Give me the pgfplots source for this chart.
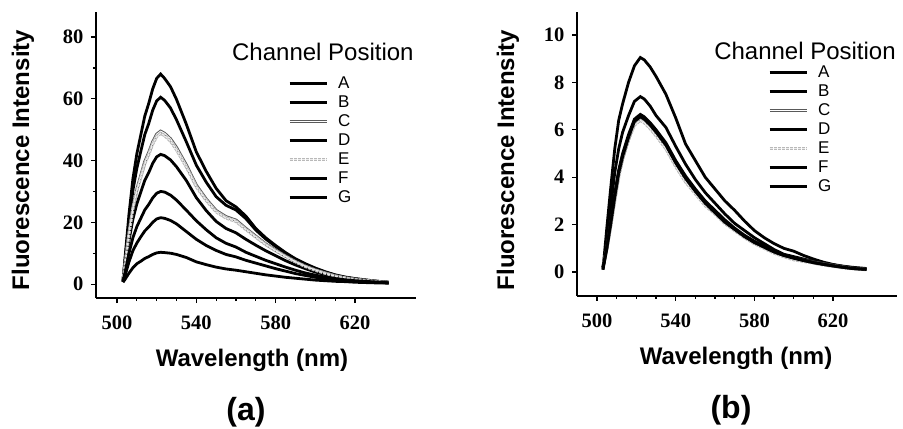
\documentclass[border=0pt]{standalone}
\usepackage{fontspec}
\setmainfont{Liberation Serif}
\setsansfont{Liberation Sans}
\usepackage{pgfplots}
\usepackage{pgfplotstable}
\pgfplotsset{compat=1.18}

\pgfplotstableread{
wl A B C D E F G H
503 1.0 1.0 0.9 0.8 0.9 0.8 0.7 0.6
504 8.2 7.3 5.9 5.0 5.9 3.6 2.6 1.5
506 22.4 20.0 16.3 13.9 16.1 9.9 7.1 3.5
508 34.0 30.3 24.8 21.0 24.4 15.0 10.8 5.3
510 42.2 37.5 30.7 26.0 30.3 18.6 13.3 6.6
512 48.3 43.0 35.1 29.8 34.6 21.3 15.3 7.4
514 54.4 48.4 39.6 33.6 39.0 24.0 17.2 8.3
516 58.5 52.0 42.6 36.1 42.0 25.8 18.5 8.9
518 63.2 56.3 46.0 39.1 45.4 27.9 20.0 9.6
520 66.6 59.3 48.5 41.2 47.8 29.4 21.1 10.1
522 68.0 60.5 49.5 42.0 48.8 30.0 21.5 10.3
524 66.6 59.5 48.8 41.6 48.1 29.8 21.3 10.2
527 63.9 57.0 47.0 40.2 46.3 28.8 20.6 10.0
530 59.8 53.2 44.2 38.0 43.5 27.2 19.5 9.6
535 51.7 46.0 38.5 33.5 37.9 23.9 17.0 8.6
540 42.8 38.5 32.0 28.0 31.5 20.5 14.5 7.2
545 36.5 33.0 27.5 23.8 27.1 17.6 12.5 6.3
550 31.0 28.3 23.8 20.3 23.4 15.0 10.9 5.5
555 27.0 25.5 21.8 18.0 21.4 13.2 9.6 4.9
560 25.0 24.0 20.7 16.6 20.3 12.0 8.8 4.5
565 22.0 21.2 18.0 14.5 17.7 10.3 7.7 4.0
570 18.0 17.5 15.5 12.6 15.2 9.0 6.8 3.5
575 15.0 14.6 13.0 10.8 12.8 7.7 5.9 3.0
580 12.5 12.2 11.0 9.2 10.8 6.6 5.0 2.6
585 10.2 10.0 9.1 7.6 8.9 5.5 4.2 2.2
590 8.2 8.0 7.3 6.2 7.2 4.5 3.4 1.9
595 6.6 6.4 5.8 5.0 5.7 3.6 2.8 1.6
600 5.2 5.0 4.6 3.9 4.5 2.9 2.2 1.3
605 4.0 3.9 3.6 3.1 3.5 2.3 1.8 1.1
610 3.0 2.9 2.7 2.3 2.6 1.8 1.4 0.9
615 2.3 2.2 2.0 1.8 2.0 1.4 1.1 0.8
620 1.8 1.7 1.6 1.4 1.5 1.1 0.9 0.6
625 1.4 1.3 1.2 1.1 1.2 0.9 0.7 0.5
630 1.0 1.0 0.9 0.8 0.9 0.7 0.6 0.4
637 0.6 0.6 0.5 0.5 0.5 0.4 0.4 0.3
}\tablea

\pgfplotstableread{
wl A B C D E F G
503 0.1 0.2 0.2 0.15 0.25 0.1 0.2
505 1.9 1.3 1.0 1.1 1.0 1.0 1.1
507 3.6 2.8 2.0 2.2 2.0 2.1 2.1
509 5.2 4.2 3.1 3.3 3.0 3.2 3.2
511 6.4 5.2 4.1 4.3 4.0 4.2 4.2
513 7.1 5.9 4.8 5.0 4.8 4.9 4.9
516 8.0 6.6 5.6 5.8 5.6 5.7 5.7
519 8.7 7.2 6.3 6.45 6.2 6.4 6.35
522 9.05 7.4 6.5 6.65 6.4 6.6 6.55
524 8.95 7.3 6.45 6.55 6.3 6.5 6.45
527 8.65 7.0 6.15 6.3 6.05 6.25 6.2
530 8.25 6.6 5.85 6.0 5.75 5.95 5.9
535 7.5 6.1 5.3 5.45 5.2 5.4 5.35
540 6.5 5.3 4.55 4.7 4.45 4.65 4.6
545 5.4 4.55 3.9 4.05 3.8 4.0 3.95
550 4.7 3.9 3.4 3.5 3.3 3.45 3.4
555 4.0 3.35 2.9 3.0 2.8 2.95 2.9
560 3.5 2.9 2.5 2.6 2.45 2.55 2.5
565 3.0 2.45 2.1 2.2 2.05 2.15 2.1
570 2.6 2.05 1.8 1.85 1.75 1.8 1.8
575 2.15 1.75 1.5 1.55 1.45 1.5 1.5
580 1.75 1.45 1.25 1.3 1.2 1.25 1.25
585 1.45 1.2 1.05 1.1 1.0 1.05 1.05
590 1.2 0.95 0.85 0.9 0.8 0.85 0.85
595 1.0 0.75 0.7 0.72 0.65 0.7 0.7
600 0.88 0.65 0.6 0.62 0.52 0.58 0.6
605 0.7 0.55 0.5 0.5 0.45 0.48 0.5
610 0.55 0.45 0.42 0.4 0.38 0.4 0.4
615 0.42 0.38 0.35 0.33 0.3 0.32 0.33
620 0.32 0.3 0.28 0.26 0.24 0.26 0.26
625 0.25 0.24 0.22 0.2 0.18 0.2 0.2
630 0.2 0.18 0.16 0.15 0.14 0.15 0.15
637 0.15 0.13 0.12 0.12 0.1 0.11 0.11
}\tableb

\tikzset{
  blk/.style={draw=black, line width=2.8bp},
  grC/.style={draw=gray!70!black, line width=1bp, double=white, double distance=1.1bp},
  grE/.style={draw=gray!55, line width=1bp, double=gray!15, double distance=1.1bp, dash pattern=on 3bp off 1bp},
}

\pgfplotsset{
  panel/.style={
    scale only axis,
    width=320bp,
    axis x line*=bottom,
    axis y line*=left,
    axis line style={line width=1.5bp},
    tick align=outside,
    major tick length=5bp,
    minor tick length=3bp,
    every tick/.style={black, line width=1.2bp},
    xtick={500,540,580,620},
    minor x tick num=3,
    /pgf/number format/assume math mode=true,
    tick label style={font=\fontsize{20.5bp}{20.5bp}\selectfont\bfseries},
    xticklabel style={yshift=-9bp},
    yticklabel style={xshift=-4bp},
    xlabel={Wavelength (nm)},
    ylabel={Fluorescence Intensity},
    legend style={draw=none, fill=none, inner sep=0pt, outer sep=0pt,
      font=\fontsize{17bp}{17bp}\selectfont\sffamily,
      row sep=5.8bp, column sep=10bp, anchor=north west,
      nodes={inner sep=0pt}},
    legend cell align=left,
    legend image code/.code={\draw[##1] (0bp,0bp) -- (37bp,0bp);},
  }
}

\begin{document}
\begin{tikzpicture}
\useasboundingbox (0,0) rectangle (903bp,429bp);

\begin{axis}[panel,
  at={(96bp,131bp)}, anchor=south west,
  height=286bp,
  xmin=489.4, xmax=650.8, ymin=-4.5, ymax=88.1,
  ytick={0,20,40,60,80}, minor y tick num=1,
  every axis y label/.style={at={(axis description cs:-0.228,0.4825)}, rotate=90, anchor=center,
    font=\fontsize{24bp}{24bp}\selectfont\sffamily\bfseries},
  every axis x label/.style={at={(axis description cs:0.4875,-0.2185)}, anchor=center,
    font=\fontsize{24bp}{24bp}\selectfont\sffamily\bfseries},
  legend style={at={(axis description cs:0.6,0.773)}},
]
\addplot[blk] table[x=wl,y=A] {\tablea};
\addplot[blk] table[x=wl,y=B] {\tablea};
\addplot[grC] table[x=wl,y=C] {\tablea};
\addplot[blk] table[x=wl,y=D] {\tablea};
\addplot[grE] table[x=wl,y=E] {\tablea};
\addplot[blk] table[x=wl,y=F] {\tablea};
\addplot[blk] table[x=wl,y=G] {\tablea};
\addplot[blk, forget plot] table[x=wl,y=H] {\tablea};
\legend{A,B,C,D,E,F,G}
\node[anchor=base, font=\fontsize{24bp}{24bp}\selectfont\sffamily] at (axis description cs:0.709,0.832) {Channel Position};
\end{axis}

\begin{axis}[panel,
  at={(577bp,133bp)}, anchor=south west,
  height=284bp,
  xmin=489.8, xmax=652.5, ymin=-1.01, ymax=10.97,
  ytick={0,2,4,6,8,10},
  every axis y label/.style={at={(axis description cs:-0.216,0.479)}, rotate=90, anchor=center,
    font=\fontsize{24bp}{24bp}\selectfont\sffamily\bfseries},
  every axis x label/.style={at={(axis description cs:0.497,-0.22)}, anchor=center,
    font=\fontsize{24bp}{24bp}\selectfont\sffamily\bfseries},
  legend style={at={(axis description cs:0.597,0.811)}},
]
\addplot[blk] table[x=wl,y=A] {\tableb};
\addplot[blk] table[x=wl,y=B] {\tableb};
\addplot[grC] table[x=wl,y=C] {\tableb};
\addplot[blk] table[x=wl,y=D] {\tableb};
\addplot[grE] table[x=wl,y=E] {\tableb};
\addplot[blk] table[x=wl,y=F] {\tableb};
\addplot[blk] table[x=wl,y=G] {\tableb};
\legend{A,B,C,D,E,F,G}
\node[anchor=base, font=\fontsize{24bp}{24bp}\selectfont\sffamily] at (axis description cs:0.7125,0.831) {Channel Position};
\end{axis}

\node[font=\fontsize{32bp}{32bp}\selectfont\sffamily\bfseries] at (246bp,17bp) {(a)};
\node[font=\fontsize{32bp}{32bp}\selectfont\sffamily\bfseries] at (731bp,19bp) {(b)};
\end{tikzpicture}
\end{document}
